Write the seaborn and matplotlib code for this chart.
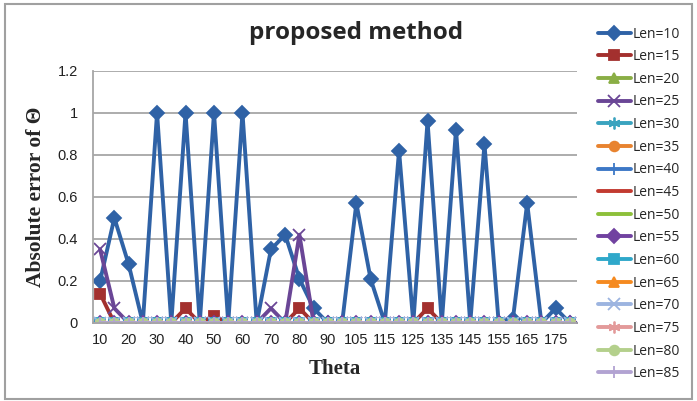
import numpy as np
import pandas as pd
import matplotlib
matplotlib.use("Agg")
import matplotlib.pyplot as plt
from matplotlib.patches import Rectangle
import seaborn as sns

# ---------------- data ----------------
theta = [10, 15, 20, 25, 30, 35, 40, 45, 50, 55, 60, 65, 70, 75, 80, 85, 90,
         100, 105, 110, 115, 120, 125, 130, 135, 140, 145, 150, 155, 160, 165,
         170, 175, 180]
tick_labels = ["10", "20", "30", "40", "50", "60", "70", "80", "90",
               "105", "115", "125", "135", "145", "155", "165", "175"]

len10 = [0.20, 0.50, 0.28, 0.0, 1.0, 0.0, 1.0, 0.0, 1.0, 0.0, 1.0, 0.0, 0.35,
         0.42, 0.21, 0.07, 0.0, 0.0, 0.57, 0.21, 0.0, 0.82, 0.0, 0.96, 0.0,
         0.92, 0.0, 0.85, 0.0, 0.02, 0.57, 0.0, 0.07, 0.0]
len15 = [0.14, 0.0, 0.0, 0.0, 0.0, 0.0, 0.07, 0.0, 0.035, 0.0, 0.0, 0.0, 0.0,
         0.0, 0.07, 0.0, 0.0, 0.0, 0.0, 0.0, 0.0, 0.0, 0.0, 0.07, 0.0, 0.0,
         0.0, 0.0, 0.0, 0.0, 0.0, 0.0, 0.0, 0.0]
len25 = [0.35, 0.07, 0.0, 0.0, 0.0, 0.0, 0.0, 0.0, 0.0, 0.0, 0.0, 0.0, 0.07,
         0.0, 0.42, 0.0, 0.0, 0.0, 0.0, 0.0, 0.0, 0.0, 0.0, 0.0, 0.0, 0.0,
         0.0, 0.0, 0.0, 0.0, 0.0, 0.0, 0.0, 0.0]
zeros = [0.0] * len(theta)

series_names = ["Len=10", "Len=15", "Len=20", "Len=25", "Len=30", "Len=35",
                "Len=40", "Len=45", "Len=50", "Len=55", "Len=60", "Len=65",
                "Len=70", "Len=75", "Len=80", "Len=85"]
series_values = [len10, len15, zeros, len25, zeros, zeros, zeros, zeros,
                 zeros, zeros, zeros, zeros, zeros, zeros, zeros, zeros]

# ---------------- styles ----------------
asterisk = (6, 2, 0)
colors = ["#2F62A6", "#A3302E", "#8AAE45", "#6A4696", "#3AA3BF", "#E8832F",
          "#3D78C6", "#C23A30", "#8DC03A", "#7142A0", "#2FA8CA", "#F58A20",
          "#9CB4E0", "#E39A9A", "#B4D08C", "#B2A3D2"]
markers = ["D", "s", "^", "x", asterisk, "o", "+", None, None, "D", "s", "^",
           "x", asterisk, "o", "+"]

sns.set_style("white")
plt.rcParams["font.family"] = ["Open Sans", "DejaVu Sans"]

fig = plt.figure(figsize=(6.97, 4.01), dpi=100)
ax = fig.add_axes([93 / 697, 1 - 323 / 401, (577 - 93) / 697, (323 - 70.7) / 401])

pos = np.arange(len(theta))
for name, vals, col, mk in zip(series_names, series_values, colors, markers):
    df = pd.DataFrame({"pos": pos, "val": vals})
    kw = {}
    if mk is not None:
        kw.update(marker=mk, markersize=7 if mk not in ("x", "+", asterisk) else 8.5,
                  markeredgecolor=col, markerfacecolor=col,
                  markeredgewidth=1.3)
    sns.lineplot(data=df, x="pos", y="val", color=col, linewidth=2.8,
                 sort=False, label=name, ax=ax, **kw)

ax.set_xlim(-0.5, len(theta) - 0.5)
ax.set_ylim(0, 1.2)
ax.set_yticks([0, 0.2, 0.4, 0.6, 0.8, 1.0, 1.2])
ax.set_yticklabels(["0", "0.2", "0.4", "0.6", "0.8", "1", "1.2"])
ax.set_xticks(pos[::2])
ax.set_xticklabels(tick_labels)
ax.tick_params(axis="both", labelsize=10.5, colors="#222222")
ax.tick_params(axis="y", length=5, width=1, color="#999999", direction="out", pad=6)
ax.tick_params(axis="x", length=0, pad=7)
for lab in ax.get_xticklabels() + ax.get_yticklabels():
    lab.set_fontfamily(["Liberation Sans", "DejaVu Sans"])

ax.yaxis.grid(True, color="#A6A6A6", linewidth=1.3)
ax.set_axisbelow(True)
for side in ["top", "right"]:
    ax.spines[side].set_visible(False)
ax.spines["left"].set_color("#A6A6A6")
ax.spines["bottom"].set_color("#A6A6A6")
ax.spines["left"].set_linewidth(1.3)
ax.spines["bottom"].set_linewidth(1.3)

ax.set_xlabel("Theta", fontsize=15, fontweight="bold",
              fontfamily=["Liberation Serif", "DejaVu Serif"], labelpad=9)
ax.set_ylabel("Absolute error of Θ", fontsize=15.5, fontweight="bold",
              fontfamily=["Liberation Serif", "DejaVu Serif"], labelpad=8)

fig.text(356 / 697, 1 - 33 / 401, "proposed method", ha="center", va="center",
         fontsize=17.5, fontweight="bold")

handles, labels = ax.get_legend_handles_labels()
ax.legend_.remove()
leg = fig.legend(handles, labels, loc="upper left",
                 bbox_to_anchor=(592 / 697, 1 - 21 / 401), frameon=False,
                 fontsize=10, handlelength=2.4, labelspacing=0.55,
                 handletextpad=0.1, borderaxespad=0)

fig.patches.append(Rectangle((5 / 697, 1 - 399 / 401), 687 / 697, 395 / 401,
                             transform=fig.transFigure, fill=False,
                             edgecolor="#A0A0A0", linewidth=1.5))

fig.savefig("out.png", dpi=100)
